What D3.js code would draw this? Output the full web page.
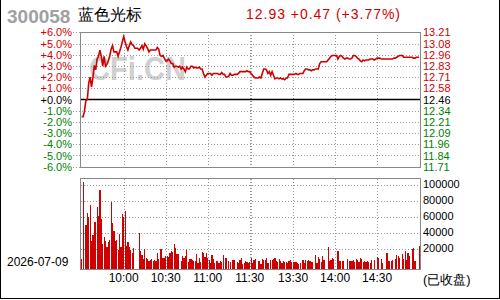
<!DOCTYPE html>
<html>
<head>
<meta charset="utf-8">
<script src="https://cdn.jsdelivr.net/npm/d3@7"></script>
<style>
  body { margin: 0; background: #fff; }
  svg { display: block; }
  text { font-family: "Liberation Sans", Arial, sans-serif; }
</style>
</head>
<body>
<div id="chart"></div>
<script>
// header
const stockCode = "300058";
const stockName = "蓝色光标";
const quoteText = "12.93 +0.47 (+3.77%)";
const dateText = "2026-07-09";
const closedText = "(已收盘)";
const prevClose = 12.46;

// axis ticks / labels
const pctTicks = [6, 5, 4, 3, 2, 1, 0, -1, -2, -3, -4, -5, -6];
const pctLabels = ["+6.0%", "+5.0%", "+4.0%", "+3.0%", "+2.0%", "+1.0%", "+0.0%", "-1.0%", "-2.0%", "-3.0%", "-4.0%", "-5.0%", "-6.0%"];
const priceLabels = ["13.21", "13.08", "12.96", "12.83", "12.71", "12.58", "12.46", "12.34", "12.21", "12.09", "11.96", "11.84", "11.71"];
const volTicks = [100000, 80000, 60000, 40000, 20000];
const timeTicks = [30, 60, 90, 120, 151, 181, 211];
const timeLabels = ["10:00", "10:30", "11:00", "11:30", "13:30", "14:00", "14:30"];
const gridMinutes = [30, 60, 90, 120, 121, 151, 181, 211];

// minute prices, 9:30-11:30 and 13:00-15:00
const amPrices = [
  12.27, 12.27, 12.33, 12.45, 12.46, 12.64, 12.71, 12.60, 12.70, 12.84,
  12.79, 12.91, 12.94, 13.01, 12.94, 12.83, 12.94, 12.83, 12.85, 12.89,
  12.94, 13.02, 13.06, 12.99, 12.99, 12.99, 12.94, 12.99, 13.04, 13.10,
  13.16, 13.10, 13.05, 13.01, 13.06, 13.10, 13.07, 13.06, 13.03, 13.03,
  13.03, 13.01, 13.03, 13.06, 13.02, 13.08, 13.06, 13.03, 12.99, 13.01,
  13.01, 13.01, 13.01, 13.01, 13.04, 13.02, 12.95, 12.94, 12.95, 12.92,
  12.89, 12.89, 12.91, 12.89, 12.86, 12.86, 12.82, 12.83, 12.83, 12.82,
  12.83, 12.80, 12.82, 12.80, 12.77, 12.82, 12.80, 12.80, 12.83, 12.83,
  12.81, 12.82, 12.81, 12.81, 12.82, 12.80, 12.80, 12.75, 12.71, 12.73,
  12.75, 12.75, 12.75, 12.73, 12.75, 12.75, 12.75, 12.75, 12.74, 12.74,
  12.76, 12.74, 12.74, 12.71, 12.71, 12.72, 12.75, 12.73, 12.73, 12.74,
  12.74, 12.74, 12.75, 12.77, 12.77, 12.77, 12.77, 12.77, 12.78, 12.77, 12.77
];
const pmPrices = [
  12.75, 12.73, 12.71, 12.70, 12.70, 12.70, 12.71, 12.70, 12.75, 12.80,
  12.80, 12.79, 12.75, 12.77, 12.73, 12.77, 12.73, 12.69, 12.70, 12.70,
  12.69, 12.70, 12.69, 12.69, 12.68, 12.70, 12.70, 12.74, 12.74, 12.74,
  12.74, 12.74, 12.75, 12.74, 12.74, 12.75, 12.75, 12.75, 12.78, 12.80,
  12.80, 12.79, 12.79, 12.78, 12.79, 12.79, 12.80, 12.80, 12.80, 12.86,
  12.88, 12.88, 12.88, 12.88, 12.88, 12.90, 12.92, 12.94, 12.95, 12.95,
  12.95, 12.95, 12.91, 12.94, 12.95, 12.94, 12.92, 12.91, 12.92, 12.92,
  12.91, 12.91, 12.92, 12.95, 12.95, 12.94, 12.92, 12.91, 12.89, 12.88,
  12.90, 12.89, 12.90, 12.90, 12.90, 12.91, 12.91, 12.91, 12.90, 12.91,
  12.92, 12.92, 12.92, 12.91, 12.91, 12.91, 12.91, 12.91, 12.91, 12.91,
  12.91, 12.91, 12.92, 12.92, 12.93, 12.94, 12.95, 12.95, 12.95, 12.93,
  12.93, 12.93, 12.93, 12.93, 12.93, 12.93, 12.92, 12.92, 12.93, 12.93, 12.93
];

// minute volumes
const amVolumes = [
  7900, 104100, 0, 50400, 65800, 60000, 75400, 30400, 37900, 54600,
  54600, 73300, 61600, 94100, 57500, 26600, 35800, 30400, 22900, 29600,
  31600, 79600, 53300, 42900, 30800, 31600, 19100, 39100, 22900, 64100,
  60800, 67900, 24100, 29600, 22500, 19100, 15000, 21200, 0, 0,
  0, 40400, 17900, 12900, 8000, 20400, 9100, 8300, 5400, 6600,
  7900, 5800, 6600, 5800, 15400, 7900, 20400, 20400, 9500, 9500,
  11600, 11600, 10400, 14950, 17500, 16600, 26200, 21800, 14100, 14100,
  0, 5000, 11200, 8700, 11200, 18700, 4600, 7500, 7500, 6600,
  5000, 5000, 13700, 2500, 8700, 4100, 16600, 15400, 10000, 14950,
  9100, 6600, 2500, 12900, 7500, 2900, 5800, 5800, 2900, 5000,
  4100, 12900, 0, 9100, 0, 5400, 4100, 0, 6600, 6600,
  0, 3700, 2900, 6200, 9100, 2000, 3300, 5400, 4100, 3300, 4100
];
const pmVolumes = [
  9100, 3300, 6600, 7500, 0, 5400, 5400, 2000, 7500, 6600,
  6600, 9100, 2500, 0, 6600, 7000, 8300, 9100, 5000, 4100,
  7500, 5800, 2900, 5000, 4100, 4100, 2900, 5400, 6200, 4100,
  3700, 4600, 4100, 3300, 2000, 2900, 0, 6200, 3300, 6200,
  5400, 6200, 5000, 4100, 4100, 0, 12900, 2900, 10400, 8300,
  4100, 11600, 6600, 0, 0, 22900, 5400, 6600, 9100, 8300,
  0, 0, 17900, 5400, 5400, 5400, 5400, 0, 0, 7500,
  5400, 5000, 5400, 6200, 4100, 7500, 6200, 4100, 9100, 7500,
  4100, 5400, 3700, 5400, 4100, 2500, 6200, 0, 6200, 0,
  10800, 9100, 0, 7500, 2500, 0, 0, 14950, 5000, 5000,
  5000, 6600, 0, 7900, 12900, 11200, 9100, 0, 13700, 8300,
  17900, 7000, 15000, 11600, 0, 20400, 22000, 5400, 0, 0, 24100
];

const W = 500, H = 300;
const red = "#d00000", green = "#008000", gridColor = "#999";

const prices = amPrices.concat(pmPrices);
const volumes = amVolumes.concat(pmVolumes);

const svg = d3.select("#chart").append("svg")
    .attr("width", W)
    .attr("height", H);

svg.append("rect")
    .attr("x", 0.5).attr("y", -1)
    .attr("width", W - 1).attr("height", H - 0.5)
    .attr("fill", "#fff").attr("stroke", "#000");

const x = d3.scaleLinear().domain([0, prices.length - 1]).range([81.7, 419.1]);
const yPct = d3.scaleLinear().domain([-6, 6]).range([166.7, 32.3]);
const yVol = d3.scaleLinear().domain([-5000, 100000]).range([269.3, 185.3]);
const pct = p => (p / prevClose - 1) * 100;

const colorOf = t => t > 0 ? red : (t < 0 ? green : "#000");

// header
svg.append("text")
    .attr("x", 7).attr("y", 23)
    .attr("font-size", 19).attr("font-weight", "bold")
    .attr("fill", "#a0a0a0")
    .text(stockCode);

svg.append("text")
    .attr("x", 78).attr("y", 20)
    .attr("font-size", 16)
    .attr("font-family", "Noto Sans CJK SC")
    .attr("fill", "#000")
    .text(stockName);

svg.append("text")
    .attr("x", 246).attr("y", 18.5)
    .attr("font-size", 14)
    .attr("font-family", "Liberation Mono")
    .attr("textLength", 154)
    .attr("fill", red)
    .text(quoteText);

// watermark
svg.append("text")
    .attr("x", 89).attr("y", 80)
    .attr("font-size", 34).attr("font-weight", "bold")
    .attr("textLength", 97).attr("lengthAdjust", "spacingAndGlyphs")
    .attr("fill", "#d0d0d0")
    .text("CFi.CN");

// price grid
svg.append("g").selectAll("line")
    .data(pctTicks.filter(t => t !== 0))
    .join("line")
    .attr("x1", 73).attr("x2", 420)
    .attr("y1", d => Math.round(yPct(d)) + 0.5)
    .attr("y2", d => Math.round(yPct(d)) + 0.5)
    .attr("stroke", gridColor)
    .attr("stroke-dasharray", "1,2");

// vertical grid (both panels)
[[32, 167.5], [179, 269]].forEach(([y0, y1]) => {
  svg.append("g").selectAll("line")
      .data(gridMinutes)
      .join("line")
      .attr("x1", d => Math.round(x(d)) + 0.5)
      .attr("x2", d => Math.round(x(d)) + 0.5)
      .attr("y1", y0).attr("y2", y1)
      .attr("stroke", gridColor)
      .attr("stroke-dasharray", "1,2");
});

// volume grid
svg.append("g").selectAll("line")
    .data(volTicks)
    .join("line")
    .attr("x1", 81).attr("x2", 420)
    .attr("y1", d => Math.round(yVol(d)) + 0.5)
    .attr("y2", d => Math.round(yVol(d)) + 0.5)
    .attr("stroke", gridColor)
    .attr("stroke-dasharray", "1,2");

// zero line
svg.append("line")
    .attr("x1", 81).attr("x2", 420)
    .attr("y1", yPct(0)).attr("y2", yPct(0))
    .attr("stroke", "#000").attr("stroke-width", 1.5);

// frames
svg.append("rect")
    .attr("x", 80.5).attr("y", 32.5)
    .attr("width", 340).attr("height", 135)
    .attr("fill", "none").attr("stroke", "#888");
svg.append("rect")
    .attr("x", 80.5).attr("y", 178.5)
    .attr("width", 340).attr("height", 91)
    .attr("fill", "none").attr("stroke", "#888");

// volume bars
svg.append("g")
    .attr("shape-rendering", "crispEdges")
    .selectAll("rect")
    .data(volumes.map((v, i) => ({v, i})).filter(d => d.v > 0))
    .join("rect")
    .attr("x", d => x(d.i) - 0.6)
    .attr("width", 1.3)
    .attr("y", d => yVol(d.v))
    .attr("height", d => yVol.range()[0] - yVol(d.v))
    .attr("fill", red);

// price line
const line = d3.line()
    .x((d, i) => x(i))
    .y(d => yPct(pct(d)));

svg.append("path")
    .datum(prices)
    .attr("d", line)
    .attr("fill", "none")
    .attr("stroke", red)
    .attr("stroke-width", 1.6);

// left % labels
svg.append("g").selectAll("text")
    .data(pctTicks)
    .join("text")
    .attr("x", 72).attr("y", d => yPct(d) + 4)
    .attr("text-anchor", "end")
    .attr("font-size", 11)
    .attr("fill", colorOf)
    .text((d, i) => pctLabels[i]);

// right price labels
svg.append("g").selectAll("text")
    .data(pctTicks)
    .join("text")
    .attr("x", 423).attr("y", d => yPct(d) + 4)
    .attr("font-size", 11)
    .attr("fill", colorOf)
    .text((d, i) => priceLabels[i]);

// volume labels
svg.append("g").selectAll("text")
    .data(volTicks)
    .join("text")
    .attr("x", 423).attr("y", d => yVol(d) + 2.5)
    .attr("font-size", 11)
    .attr("fill", "#000")
    .text(d => d);

// time labels
svg.append("g").selectAll("text")
    .data(timeTicks)
    .join("text")
    .attr("x", d => x(d)).attr("y", 281.5)
    .attr("text-anchor", "middle")
    .attr("font-size", 12)
    .attr("fill", "#000")
    .text((d, i) => timeLabels[i]);

svg.append("text")
    .attr("x", 7).attr("y", 266)
    .attr("font-size", 12)
    .attr("fill", "#000")
    .text(dateText);

svg.append("text")
    .attr("x", 423).attr("y", 284)
    .attr("font-size", 13)
    .attr("font-family", "Noto Sans CJK SC")
    .attr("fill", "#000")
    .text(closedText);
</script>
</body>
</html>
